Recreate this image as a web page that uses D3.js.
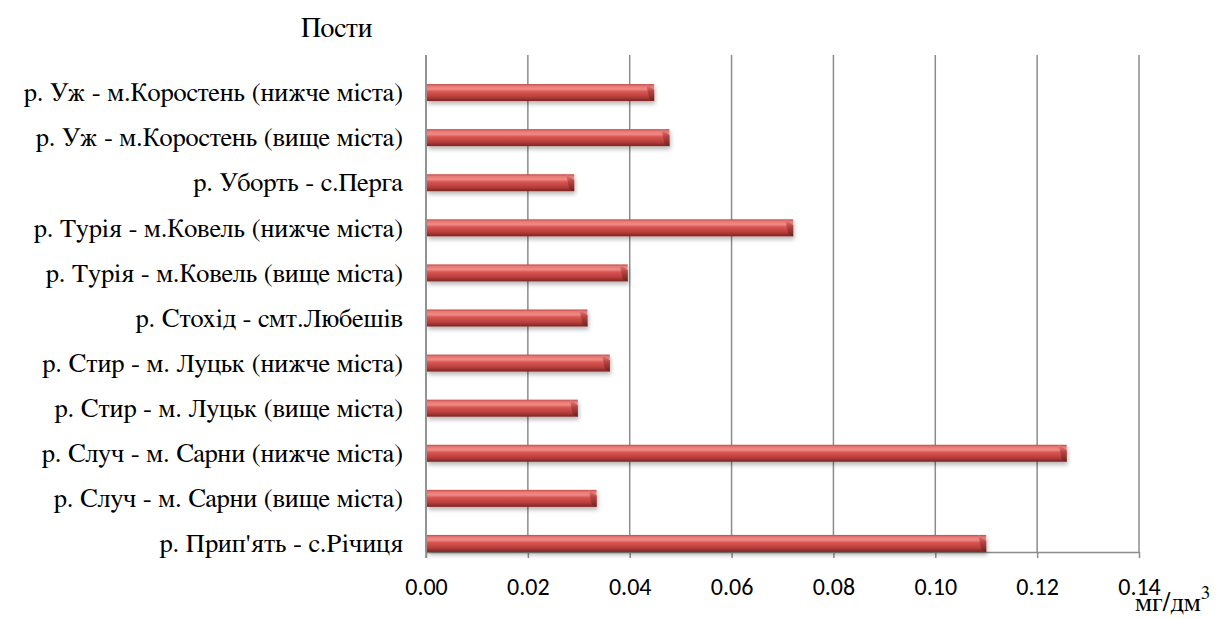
<!DOCTYPE html>
<html>
<head>
<meta charset="utf-8">
<script src="https://cdn.jsdelivr.net/npm/d3@7"></script>
<style>
  html, body { margin: 0; padding: 0; background: #fff; }
  svg { display: block; }
</style>
</head>
<body>
<svg id="chart" width="1219" height="618"></svg>
<script>
// Monitoring posts, listed bottom-to-top as they appear on the axis
const categories = [
  "р. Прип'ять - с.Річиця",
  "р. Случ - м. Сарни (вище міста)",
  "р. Случ - м. Сарни (нижче міста)",
  "р. Стир - м. Луцьк (вище міста)",
  "р. Стир - м. Луцьк (нижче міста)",
  "р. Стохід - смт.Любешів",
  "р. Турія - м.Ковель (вище міста)",
  "р. Турія - м.Ковель (нижче міста)",
  "р. Уборть - с.Перга",
  "р. Уж - м.Коростень (вище міста)",
  "р. Уж - м.Коростень (нижче міста)"
];

// Concentration, mg/dm3
const values = [0.110, 0.0335, 0.1258, 0.0298, 0.0361, 0.0317, 0.0396, 0.0721, 0.0291, 0.0478, 0.0448];

const xTicks = [0, 0.02, 0.04, 0.06, 0.08, 0.10, 0.12, 0.14];

// Times-like face with full Cyrillic coverage
const SERIF = "FreeSerif, 'DejaVu Serif', serif";
const SANS = "Carlito, Lato, sans-serif";

const svg = d3.select("#chart");

const plot = { left: 426, right: 1139, top: 55, bottom: 552 };

const x = d3.scaleLinear().domain([0, 0.14]).range([plot.left, plot.right]);
const y = d3.scaleBand().domain(categories).range([566, 70]);

const defs = svg.append("defs");

// Vertical shading across the bar cylinder
const grad = defs.append("linearGradient")
  .attr("id", "barGrad").attr("x1", 0).attr("y1", 0).attr("x2", 0).attr("y2", 1);
[
  [0.00, "#c24a48"],
  [0.12, "#e77873"],
  [0.30, "#f08a85"],
  [0.45, "#d95552"],
  [0.75, "#b83e3c"],
  [1.00, "#7d2422"]
].forEach(([o, c]) => grad.append("stop").attr("offset", o).attr("stop-color", c));

const endGrad = defs.append("linearGradient")
  .attr("id", "endGrad").attr("x1", 0).attr("y1", 0).attr("x2", 0).attr("y2", 1);
[
  [0.0, "#e58a86"],
  [0.4, "#b54340"],
  [1.0, "#6e1f1d"]
].forEach(([o, c]) => endGrad.append("stop").attr("offset", o).attr("stop-color", c));

const shadow = defs.append("filter").attr("id", "shadow")
  .attr("x", "-5%").attr("y", "-50%").attr("width", "115%").attr("height", "220%");
shadow.append("feDropShadow")
  .attr("dx", 1).attr("dy", 3).attr("stdDeviation", 2)
  .attr("flood-color", "#000").attr("flood-opacity", 0.28);

// Gridlines
svg.append("g")
  .selectAll("line")
  .data(xTicks)
  .join("line")
  .attr("x1", d => x(d)).attr("x2", d => x(d))
  .attr("y1", plot.top).attr("y2", plot.bottom)
  .attr("stroke", "#8c8c8c")
  .attr("stroke-width", 1.5);

// Bottom value axis
const xAxis = d3.axisBottom(x)
  .tickValues(xTicks)
  .tickFormat(d3.format(".2f"))
  .tickSizeInner(6)
  .tickSizeOuter(0)
  .tickPadding(20);

const gx = svg.append("g")
  .attr("transform", `translate(0,${plot.bottom})`)
  .call(xAxis)
  .attr("font-family", SANS)
  .attr("font-size", 24);
gx.select(".domain").attr("stroke", "#8c8c8c").attr("stroke-width", 1.5);
gx.selectAll(".tick line").attr("stroke", "#8c8c8c").attr("stroke-width", 1.5);
gx.selectAll(".tick text").attr("fill", "#000");

// Category labels
svg.append("g")
  .selectAll("text")
  .data(categories)
  .join("text")
  .attr("font-family", SERIF)
  .attr("font-size", 26.5)
  .attr("x", 403)
  .attr("y", d => y(d) + y.bandwidth() / 2)
  .attr("dy", "0.33em")
  .attr("text-anchor", "end")
  .attr("fill", "#000")
  .text(d => d);

// Bars
const barH = 17;
const bev = 8;
const bars = svg.append("g")
  .selectAll("g")
  .data(categories.map((c, i) => ({ c, v: values[i] })))
  .join("g")
  .attr("filter", "url(#shadow)");

bars.append("rect")
  .attr("x", x(0) + 1)
  .attr("y", d => y(d.c) + y.bandwidth() / 2 - barH / 2)
  .attr("width", d => x(d.v) - x(0) - 1)
  .attr("height", barH)
  .attr("fill", "url(#barGrad)");

// Bevelled right end of each bar
bars.append("path")
  .attr("d", d => {
    const xr = x(d.v), yt = y(d.c) + y.bandwidth() / 2 - barH / 2;
    return `M${xr - bev},${yt} L${xr},${yt + bev * 0.7} L${xr},${yt + barH} L${xr - bev * 0.6},${yt + barH - 2} Z`;
  })
  .attr("fill", "url(#endGrad)")
  .attr("opacity", 0.9);

// Left edge line over bars
svg.append("line")
  .attr("x1", x(0)).attr("x2", x(0))
  .attr("y1", plot.top).attr("y2", plot.bottom + 6)
  .attr("stroke", "#8c8c8c").attr("stroke-width", 1.5);

// Titles
svg.append("text")
  .attr("font-family", SERIF)
  .attr("font-size", 28)
  .attr("x", 301).attr("y", 37)
  .text("Пости");

const unit = svg.append("text")
  .attr("font-family", SERIF)
  .attr("font-size", 27)
  .attr("x", 1135).attr("y", 611);
unit.append("tspan").text("мг/дм");
unit.append("tspan").attr("dy", -12).attr("font-size", 19).text("3");
</script>
</body>
</html>
